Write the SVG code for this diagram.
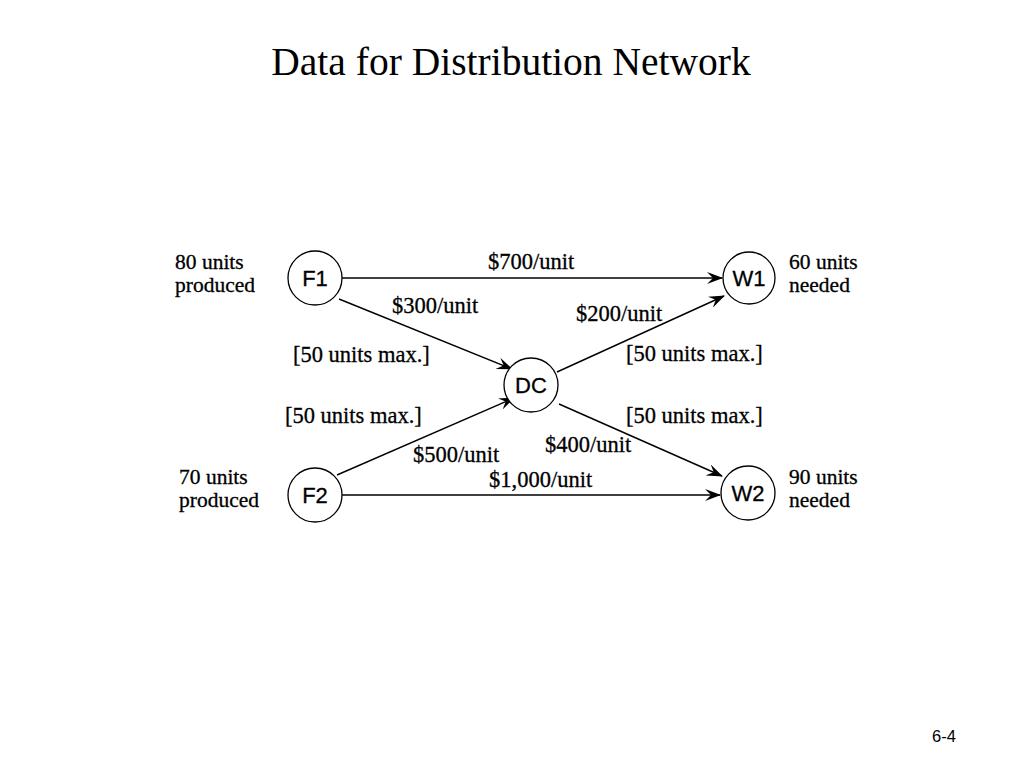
<svg xmlns="http://www.w3.org/2000/svg" width="1024" height="768" viewBox="0 0 1024 768">
<style>
.node{fill:#fff;stroke:#000;stroke-width:1.3}
.nl{font-family:"Liberation Sans",Arial,sans-serif;font-size:22px;text-anchor:middle;fill:#000;stroke:#000;stroke-width:0.3}
.t{font-family:"Liberation Serif","Times New Roman",serif;font-size:22.5px;fill:#000;stroke:#000;stroke-width:0.3}
.s{font-family:"Liberation Serif","Times New Roman",serif;font-size:21.5px;fill:#000;stroke:#000;stroke-width:0.3}
.e{stroke:#000;stroke-width:1.4;fill:none;marker-end:url(#ah)}
</style>
<defs>
<marker id="ah" viewBox="0 0 16 12" refX="15" refY="6" markerWidth="16" markerHeight="12" markerUnits="userSpaceOnUse" orient="auto">
<path d="M0,0 L16,6 L0,12 L6,6 z" fill="#000"/>
</marker>
</defs>
<rect width="1024" height="768" fill="#fff"/>
<text x="511" y="75" font-family="Liberation Serif,'Times New Roman',serif" font-size="39.5" text-anchor="middle">Data for Distribution Network</text>
<g id="connectors">
<line class="e" x1="342" y1="278" x2="722" y2="278"/>
<line class="e" x1="339" y1="299" x2="512" y2="369"/>
<line class="e" x1="557" y1="372" x2="724" y2="296"/>
<line class="e" x1="337" y1="475" x2="514" y2="398"/>
<line class="e" x1="559" y1="404" x2="722" y2="476"/>
<line class="e" x1="342" y1="495" x2="720" y2="495"/>
</g>
<g id="labels">
<text class="t" x="488" y="269">$700/unit</text>
<text class="t" x="392" y="313">$300/unit</text>
<text class="t" x="293" y="362">[50 units max.]</text>
<text class="t" x="576" y="321">$200/unit</text>
<text class="t" x="626" y="361">[50 units max.]</text>
<text class="t" x="285" y="423">[50 units max.]</text>
<text class="t" x="626" y="423">[50 units max.]</text>
<text class="t" x="413" y="462">$500/unit</text>
<text class="t" x="545" y="452">$400/unit</text>
<text class="t" x="489" y="487">$1,000/unit</text>
</g>
<g id="F1">
<circle class="node" cx="315" cy="278" r="27"/>
<text class="nl" x="315" y="286">F1</text>
<text class="s" x="175" y="269">80 units</text>
<text class="s" x="175" y="292">produced</text>
</g>
<g id="W1">
<circle class="node" cx="749" cy="278" r="26"/>
<text class="nl" x="749" y="286">W1</text>
<text class="s" x="789" y="269">60 units</text>
<text class="s" x="789" y="292">needed</text>
</g>
<g id="DC">
<circle class="node" cx="531" cy="385" r="27"/>
<text class="nl" x="531" y="393">DC</text>
</g>
<g id="F2">
<circle class="node" cx="315" cy="495" r="27"/>
<text class="nl" x="315" y="503">F2</text>
<text class="s" x="179" y="484">70 units</text>
<text class="s" x="179" y="507">produced</text>
</g>
<g id="W2">
<circle class="node" cx="748" cy="493" r="27"/>
<text class="nl" x="748" y="501">W2</text>
<text class="s" x="789" y="484">90 units</text>
<text class="s" x="789" y="507">needed</text>
</g>
<text x="932" y="742" font-family="Liberation Sans,Arial,sans-serif" font-size="16.5">6-4</text>
</svg>
